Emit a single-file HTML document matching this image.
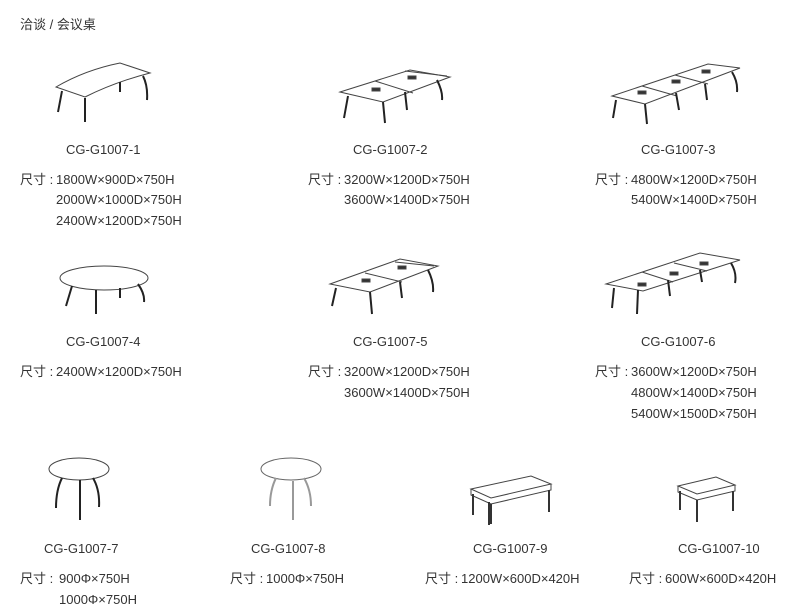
<!DOCTYPE html>
<html><head><meta charset="utf-8"><style>
body{margin:0;width:810px;height:608px;background:#fff;position:relative;overflow:hidden;font-family:"Liberation Sans","Noto Sans CJK SC",sans-serif;color:#333;font-size:13px}
.t{position:absolute;white-space:nowrap;line-height:16px}
svg{position:absolute;left:0;top:0}
</style></head><body>
<div class="t" style="left:20px;top:17px">洽谈 / 会议桌</div>

<div class="t" style="left:66px;top:142px">CG-G1007-1</div>
<div class="t" style="left:20px;top:172px">尺寸 :</div>
<div class="t" style="left:56px;top:172px">1800W×900D×750H</div>
<div class="t" style="left:56px;top:192px">2000W×1000D×750H</div>
<div class="t" style="left:56px;top:213px">2400W×1200D×750H</div>

<div class="t" style="left:353px;top:142px">CG-G1007-2</div>
<div class="t" style="left:308px;top:172px">尺寸 :</div>
<div class="t" style="left:344px;top:172px">3200W×1200D×750H</div>
<div class="t" style="left:344px;top:192px">3600W×1400D×750H</div>

<div class="t" style="left:641px;top:142px">CG-G1007-3</div>
<div class="t" style="left:595px;top:172px">尺寸 :</div>
<div class="t" style="left:631px;top:172px">4800W×1200D×750H</div>
<div class="t" style="left:631px;top:192px">5400W×1400D×750H</div>

<div class="t" style="left:66px;top:334px">CG-G1007-4</div>
<div class="t" style="left:20px;top:364px">尺寸 :</div>
<div class="t" style="left:56px;top:364px">2400W×1200D×750H</div>

<div class="t" style="left:353px;top:334px">CG-G1007-5</div>
<div class="t" style="left:308px;top:364px">尺寸 :</div>
<div class="t" style="left:344px;top:364px">3200W×1200D×750H</div>
<div class="t" style="left:344px;top:385px">3600W×1400D×750H</div>

<div class="t" style="left:641px;top:334px">CG-G1007-6</div>
<div class="t" style="left:595px;top:364px">尺寸 :</div>
<div class="t" style="left:631px;top:364px">3600W×1200D×750H</div>
<div class="t" style="left:631px;top:385px">4800W×1400D×750H</div>
<div class="t" style="left:631px;top:406px">5400W×1500D×750H</div>

<div class="t" style="left:44px;top:541px">CG-G1007-7</div>
<div class="t" style="left:20px;top:571px">尺寸 :</div>
<div class="t" style="left:59px;top:571px">900Φ×750H</div>
<div class="t" style="left:59px;top:592px">1000Φ×750H</div>

<div class="t" style="left:251px;top:541px">CG-G1007-8</div>
<div class="t" style="left:230px;top:571px">尺寸 :</div>
<div class="t" style="left:266px;top:571px">1000Φ×750H</div>

<div class="t" style="left:473px;top:541px">CG-G1007-9</div>
<div class="t" style="left:425px;top:571px">尺寸 :</div>
<div class="t" style="left:461px;top:571px">1200W×600D×420H</div>

<div class="t" style="left:678px;top:541px">CG-G1007-10</div>
<div class="t" style="left:629px;top:571px">尺寸 :</div>
<div class="t" style="left:665px;top:571px">600W×600D×420H</div>

<svg width="810" height="608" fill="none" stroke="#444" stroke-width="1">
<!-- 1 -->
<path d="M56 87 Q85 70 120 63 L150 73 Q115 82 85 97 Z" fill="#fff"/>
<path d="M62 91 L58 112 M85 98 L85 122 M120 82 L120 92 M143 76 Q148 86 147 100" stroke="#222" stroke-width="2"/>
<!-- 2 -->
<path d="M340 92 L410 70 L450 77 L383 102 Z" fill="#fff"/><path d="M375 81 L413 93 M405 71 L447 76"/>
<path d="M348 96 L344 118 M383 102 L385 123 M405 92 L407 110 M437 80 Q443 92 442 100" stroke="#222" stroke-width="2"/>
<rect x="372" y="88" width="8" height="3" fill="#333"/><rect x="408" y="76" width="8" height="3" fill="#333"/>
<!-- 3 -->
<path d="M612 96 L708 64 L740 68 L645 104 Z" fill="#fff"/><path d="M642 86 L677 96 M675 75 L708 84"/>
<path d="M616 100 L613 118 M645 104 L647 124 M676 93 L679 110 M705 84 L707 100 M732 72 Q738 82 737 92" stroke="#222" stroke-width="2"/>
<rect x="638" y="91" width="8" height="3" fill="#333"/><rect x="672" y="80" width="8" height="3" fill="#333"/><rect x="702" y="70" width="8" height="3" fill="#333"/>
<!-- 4 -->
<ellipse cx="104" cy="278" rx="44" ry="12" fill="#fff"/>
<path d="M72 286 L66 306 M96 290 L96 314 M120 288 L120 298 M138 284 Q145 294 144 302" stroke="#222" stroke-width="2"/>
<!-- 5 -->
<path d="M330 284 L400 259 L438 266 L370 292 Z" fill="#fff"/><path d="M365 273 L402 282 M395 262 L434 266"/>
<path d="M336 288 L332 306 M370 292 L372 314 M400 282 L402 298 M428 270 Q434 282 433 292" stroke="#222" stroke-width="2"/>
<rect x="362" y="279" width="8" height="3" fill="#333"/><rect x="398" y="266" width="8" height="3" fill="#333"/>
<!-- 6 -->
<path d="M606 284 L700 253 L740 260 L643 291 Z" fill="#fff"/><path d="M642 272 L673 282 M674 263 L707 271"/>
<path d="M614 288 L612 308 M638 290 L637 314 M668 280 L670 296 M700 270 L702 282 M731 263 Q737 273 735 283" stroke="#222" stroke-width="2"/>
<rect x="638" y="283" width="8" height="3" fill="#333"/><rect x="670" y="272" width="8" height="3" fill="#333"/><rect x="700" y="262" width="8" height="3" fill="#333"/>
<!-- 7 -->
<ellipse cx="79" cy="469" rx="30" ry="11" fill="#fff"/>
<path d="M62 478 Q56 490 56 508 M80 480 L80 520 M93 478 Q100 490 99 507" stroke="#222" stroke-width="2"/>
<!-- 8 -->
<ellipse cx="291" cy="469" rx="30" ry="11" fill="#fff" stroke="#666"/>
<path d="M276 478 Q270 490 270 506 M293 481 L293 520 M304 478 Q311 490 311 506" stroke="#999" stroke-width="2"/>
<!-- 9 -->
<path d="M471 489 L531 476 L551 484 L491 498 Z" fill="#fff"/><path d="M471 489 L471 495 L491 504 L551 490 L551 484"/>
<path d="M473 494 L473 515 M489 502 L489 525 M549 490 L549 512 M491 504 L491 524" stroke="#333" stroke-width="2"/>
<!-- 10 -->
<path d="M678 486 L716 477 L735 485 L697 494 Z" fill="#fff"/><path d="M678 486 L678 492 L697 500 L735 491 L735 485"/>
<path d="M680 491 L680 510 M697 500 L697 522 M733 491 L733 511" stroke="#333" stroke-width="2"/>
</svg>
</body></html>
